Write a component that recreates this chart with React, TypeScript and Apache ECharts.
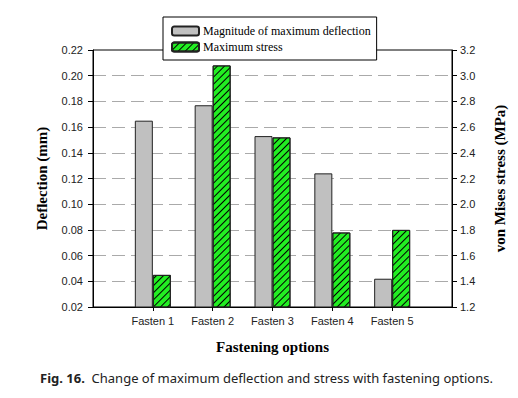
import React, { useEffect, useRef } from "react";
import * as echarts from "echarts";

const categories = ["", "Fasten 1", "Fasten 2", "Fasten 3", "Fasten 4", "Fasten 5", ""];
const deflection = [null, 0.165, 0.177, 0.153, 0.124, 0.042, null];
const stress = [null, 1.45, 3.08, 2.52, 1.78, 1.8, null];
const seriesNames = ["Magnitude of maximum deflection", "Maximum stress"];

export default function App() {
  const ref = useRef<HTMLDivElement>(null);
  useEffect(() => {
    const chart = echarts.init(ref.current!, null, { renderer: "svg" });
    const sans = "Liberation Sans";
    const serif = "Liberation Serif";
    chart.setOption({
      animation: false,
      backgroundColor: "#fff",
      grid: { left: 93, right: 66, top: 50, bottom: 91, show: true, borderColor: "#000", borderWidth: 1, backgroundColor: "transparent" },
      legend: {
        left: 163,
        top: 17,
        orient: "vertical",
        backgroundColor: "#fff",
        borderColor: "#000",
        borderWidth: 1,
        padding: [8, 6, 7, 8],
        itemGap: 4,
        itemWidth: 27,
        itemHeight: 9,
        z: 10,
        textStyle: { fontFamily: serif, fontSize: 12, color: "#000", padding: [0, 0, 0, -1] },
        data: seriesNames,
      },
      xAxis: {
        type: "category",
        data: categories,
        boundaryGap: false,
        name: "Fastening options",
        nameLocation: "middle",
        nameGap: 32,
        nameTextStyle: { fontFamily: serif, fontWeight: "bold", fontSize: 15, color: "#000" },
        axisLine: { lineStyle: { color: "#000", width: 1 } },
        axisTick: { show: true, length: 4, interval: (i: number) => i > 0 && i < 6, lineStyle: { color: "#000" } },
        axisLabel: { fontFamily: sans, fontSize: 11, color: "#222", margin: 8, interval: 0 },
        splitLine: { show: false },
      },
      yAxis: [
        {
          type: "value",
          min: 0.02,
          max: 0.22,
          interval: 0.02,
          name: "Deflection (mm)",
          nameLocation: "middle",
          nameRotate: 90,
          nameGap: 44,
          nameTextStyle: { fontFamily: serif, fontWeight: "bold", fontSize: 15, color: "#000" },
          axisLine: { show: true, lineStyle: { color: "#000" } },
          axisTick: { show: true, length: 5, lineStyle: { color: "#000" } },
          axisLabel: { fontFamily: sans, fontSize: 11, color: "#222", margin: 10, formatter: (v: number) => v.toFixed(2) },
          splitLine: { show: true, showMinLine: false, showMaxLine: false, lineStyle: { color: "#aaa", width: 1, type: [13, 6] } },
        },
        {
          type: "value",
          min: 1.2,
          max: 3.2,
          interval: 0.2,
          position: "right",
          name: "von Mises stress (MPa)",
          nameLocation: "middle",
          nameRotate: 90,
          nameGap: 40,
          nameTextStyle: { fontFamily: serif, fontWeight: "bold", fontSize: 15, color: "#000" },
          axisLine: { show: true, lineStyle: { color: "#000" } },
          axisTick: { show: true, length: 5, lineStyle: { color: "#000" } },
          axisLabel: { fontFamily: sans, fontSize: 11, color: "#222", margin: 8, formatter: (v: number) => v.toFixed(1) },
          splitLine: { show: false },
        },
      ],
      series: [
        {
          name: seriesNames[0],
          type: "bar",
          yAxisIndex: 0,
          data: deflection,
          barWidth: 18,
          barGap: "0%",
          itemStyle: { color: "#c0c0c0", borderColor: "#222", borderWidth: 1 },
        },
        {
          name: seriesNames[1],
          type: "bar",
          yAxisIndex: 1,
          data: stress,
          barWidth: 18,
          barGap: "0%",
          itemStyle: {
            color: "#22ee22",
            borderColor: "#222",
            borderWidth: 1,
            decal: {
              symbol: "rect",
              symbolSize: 1,
              dashArrayX: [1, 0],
              dashArrayY: [1, 3.5],
              rotation: -Math.PI / 4,
              color: "#000",
            },
          },
        },
      ],
      graphic: [
        {
          type: "text",
          left: 40,
          top: 371,
          style: {
            text: "{b|Fig. 16.}  Change of maximum deflection and stress with fastening options.",
            fontFamily: "Noto Sans",
            fontSize: 13,
            fill: "#222",
            rich: { b: { fontFamily: "Noto Sans", fontWeight: "bold", fontSize: 13, fill: "#222" } },
          },
        },
      ],
    });
    return () => chart.dispose();
  }, []);
  return <div ref={ref} style={{ width: 518, height: 398, position: "absolute", left: 0, top: 0 }} />;
}
